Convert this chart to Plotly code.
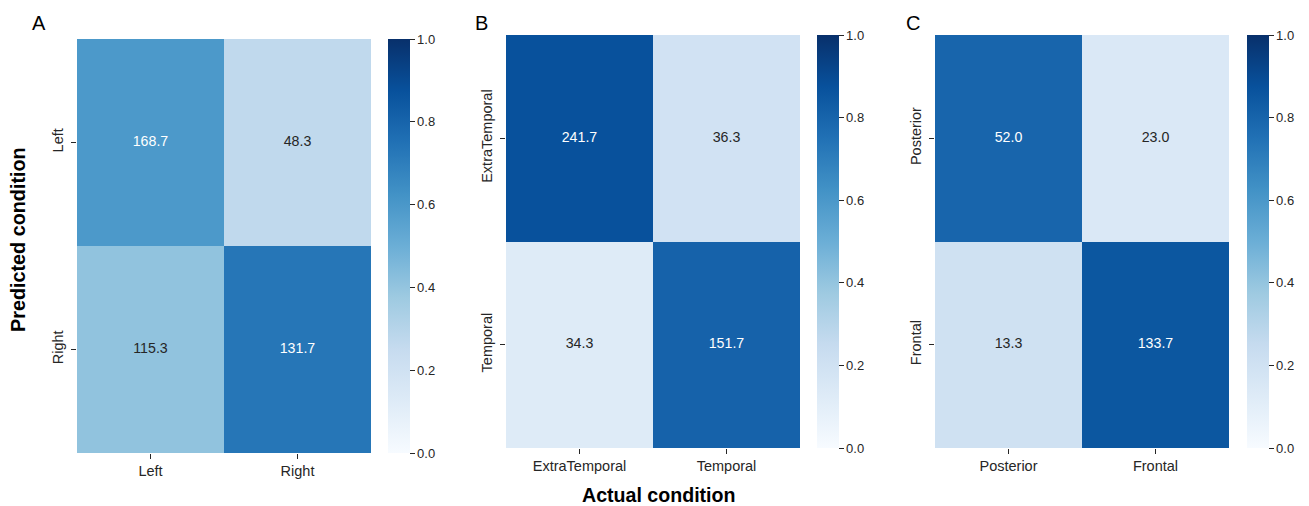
import numpy as np
import plotly.graph_objects as go

# Confusion matrices (mean counts); rows = predicted, columns = actual
labels_a = ["Left", "Right"]
counts_a = [[168.7, 48.3],
            [115.3, 131.7]]

labels_b = ["ExtraTemporal", "Temporal"]
counts_b = [[241.7, 36.3],
            [34.3, 151.7]]

labels_c = ["Posterior", "Frontal"]
counts_c = [[52.0, 23.0],
            [13.3, 133.7]]

panel_letters = ["A", "B", "C"]
colorbar_ticks = [0.0, 0.2, 0.4, 0.6, 0.8, 1.0]

W, H = 1309, 506
FONT = "Liberation Sans, Arial, sans-serif"
INK = "#262626"

BLUES = ["#f7fbff", "#deebf7", "#c6dbef", "#9ecae1", "#6baed6",
         "#4292c6", "#2171b5", "#08519c", "#08306b"]
blues_scale = [[i / (len(BLUES) - 1), c] for i, c in enumerate(BLUES)]

# pixel boxes for each panel: heatmap (x0, x1, y0, y1) and colorbar x0
panels = [
    dict(labels=labels_a, counts=counts_a, box=(77, 371, 39, 453), cbx=388, letter=(39, 23)),
    dict(labels=labels_b, counts=counts_b, box=(506, 800, 35, 448), cbx=817, letter=(481, 23)),
    dict(labels=labels_c, counts=counts_c, box=(935, 1229, 35, 448), cbx=1247, letter=(913, 23)),
]

fig = go.Figure()
layout = {}
annotations = []

for i, p in enumerate(panels):
    n = i + 1
    xa = "x" if n == 1 else f"x{n}"
    ya = "y" if n == 1 else f"y{n}"
    ca = "coloraxis" if n == 1 else f"coloraxis{n}"
    counts = np.array(p["counts"])
    norm = counts / counts.sum(axis=0, keepdims=True)
    labels = p["labels"]
    x0, x1, y0, y1 = p["box"]

    fig.add_trace(go.Heatmap(
        z=norm, x=labels, y=labels, coloraxis=ca,
        xaxis=xa, yaxis=ya, hoverinfo="skip",
    ))

    tx, ty, tt, tc = [], [], [], []
    for r in range(2):
        for c in range(2):
            tx.append(labels[c])
            ty.append(labels[r])
            tt.append(f"{counts[r, c]:.1f}")
            tc.append("white" if norm[r, c] > 0.5 else INK)
    fig.add_trace(go.Scatter(
        x=tx, y=ty, text=tt, mode="text", xaxis=xa, yaxis=ya,
        textfont=dict(color=tc, size=14.2, family=FONT),
        hoverinfo="skip", showlegend=False,
    ))

    xkey = "xaxis" if n == 1 else f"xaxis{n}"
    ykey = "yaxis" if n == 1 else f"yaxis{n}"
    layout[xkey] = dict(
        domain=[x0 / W, x1 / W], anchor=ya, showgrid=False, zeroline=False,
        showline=False, ticks="outside", ticklen=5, tickwidth=1, tickcolor=INK,
        tickfont=dict(size=14.5, color=INK, family=FONT),
        range=[-0.5, 1.5], fixedrange=True,
    )
    layout[ykey] = dict(
        domain=[1 - y1 / H, 1 - y0 / H], anchor=xa, showgrid=False, zeroline=False,
        showline=False, ticks="outside", ticklen=5, tickwidth=1, tickcolor=INK,
        tickfont=dict(size=14.5, color=INK, family=FONT), tickangle=-90,
        ticklabelstandoff=2,
        range=[1.5, -0.5], fixedrange=True,
    )
    layout[ca] = dict(
        cmin=0, cmax=1, colorscale=blues_scale,
        colorbar=dict(
            x=p["cbx"] / W, xanchor="left", xpad=0, ypad=0,
            y=1 - y1 / H, yanchor="bottom", len=(y1 - y0), lenmode="pixels",
            thickness=22, thicknessmode="pixels", outlinewidth=0,
            tickvals=colorbar_ticks, tickformat=".1f", tickprefix=" ",
            ticks="outside", ticklen=5, tickcolor=INK,
            tickfont=dict(size=13, color=INK, family=FONT),
        ),
    )
    lx, ly = p["letter"]
    annotations.append(dict(
        text=panel_letters[i], x=lx / W, y=1 - ly / H, xref="paper", yref="paper",
        showarrow=False, xanchor="center", yanchor="middle",
        font=dict(size=20, color="black", family=FONT),
    ))

annotations.append(dict(
    text="<b>Predicted condition</b>", x=18 / W, y=1 - 240 / H,
    xref="paper", yref="paper", showarrow=False, textangle=-90,
    xanchor="center", yanchor="middle",
    font=dict(size=19.8, color="black", family=FONT),
))
annotations.append(dict(
    text="<b>Actual condition</b>", x=658 / W, y=1 - 495 / H,
    xref="paper", yref="paper", showarrow=False,
    xanchor="center", yanchor="middle",
    font=dict(size=19.6, color="black", family=FONT),
))

fig.update_layout(
    width=W, height=H, margin=dict(l=0, r=0, t=0, b=0),
    paper_bgcolor="white", plot_bgcolor="white",
    showlegend=False, annotations=annotations,
    font=dict(family=FONT, color=INK),
    **layout,
)

fig.write_html("out.html")
